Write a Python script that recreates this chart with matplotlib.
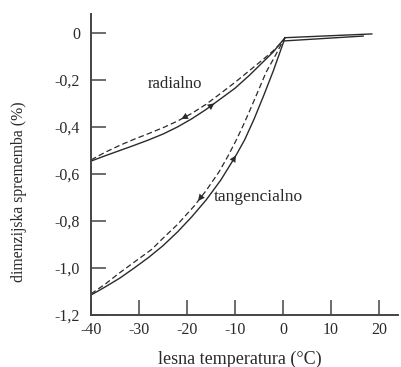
import numpy as np
import matplotlib
matplotlib.use("Agg")
import matplotlib.pyplot as plt

plt.rcParams['font.family'] = ['Liberation Serif', 'DejaVu Serif']

# radialno (ohlajanje - crtkano, segrevanje - polno)
rad_cool_t = [-40, -37, -34, -31, -28, -25, -22, -19, -16, -13, -10, -7, -4, -2, 0]
rad_cool = [-0.54, -0.507, -0.478, -0.452, -0.428, -0.403, -0.375, -0.342, -0.303,
            -0.257, -0.21, -0.16, -0.11, -0.075, -0.034]
rad_warm_t = [-40, -37, -34, -31, -28, -25, -22, -19, -16, -13, -10, -7, -4, -2, 0.4]
rad_warm = [-0.545, -0.522, -0.5, -0.478, -0.455, -0.43, -0.4, -0.365, -0.325,
            -0.28, -0.235, -0.18, -0.12, -0.08, -0.02]

# tangencialno
tan_cool_t = [-40, -37, -34.4, -31, -27.3, -25.6, -22, -18.5, -16, -13.3, -11.5,
              -9.6, -8, -6.5, -5, -3.5, -1.7, 0]
tan_cool = [-1.11, -1.068, -1.026, -0.975, -0.92, -0.885, -0.815, -0.736, -0.67,
            -0.59, -0.525, -0.45, -0.38, -0.31, -0.238, -0.166, -0.10, -0.034]
tan_warm_t = [-40, -37, -34, -31, -28, -25, -22, -19, -16, -13, -10, -8, -6, -4,
              -2, 0, 0.4]
tan_warm = [-1.115, -1.08, -1.043, -1.0, -0.955, -0.905, -0.847, -0.782, -0.71,
            -0.627, -0.528, -0.455, -0.365, -0.265, -0.16, -0.045, -0.02]

# plato nad 0 °C
flat_warm_t = [0.4, 18.5]
flat_warm = [-0.02, -0.004]
flat_cool_t = [0, 16.7]
flat_cool = [-0.034, -0.013]

# puscice: (temperatura, krivulja)
arrow_pos = [(-20.0, 'rad_cool'), (-15.5, 'rad_warm'), (-11.0, 'tan_warm'), (-16.5, 'tan_cool')]

col = '#2a2a2a'
fig = plt.figure(figsize=(4.01, 3.67), dpi=100)
ax = fig.add_axes([0.227, 0.1417, 0.766, 0.8196])

ax.plot(rad_cool_t, rad_cool, color=col, lw=0.9, ls=(0, (4.5, 2.5)))
ax.plot(rad_warm_t, rad_warm, color=col, lw=1.0)
ax.plot(tan_cool_t, tan_cool, color=col, lw=0.9, ls=(0, (4.5, 2.5)))
ax.plot(tan_warm_t, tan_warm, color=col, lw=1.0)
ax.plot(flat_warm_t, flat_warm, color=col, lw=1.0)
ax.plot(flat_cool_t, flat_cool, color=col, lw=1.0)

curves = {
    'rad_cool': (rad_cool_t, rad_cool, -1),
    'rad_warm': (rad_warm_t, rad_warm, 1),
    'tan_cool': (tan_cool_t, tan_cool, -1),
    'tan_warm': (tan_warm_t, tan_warm, 1),
}
for t0, key in arrow_pos:
    xs, ys, d = curves[key]
    y0 = np.interp(t0, xs, ys)
    t1 = t0 + d * 1.2
    y1 = np.interp(t1, xs, ys)
    ax.annotate('', xy=(t1, y1), xytext=(t0, y0),
                arrowprops=dict(arrowstyle='-|>', lw=0, color=col,
                                mutation_scale=12, shrinkA=0, shrinkB=0))

ax.text(-22.5, -0.215, 'radialno', fontsize=12, ha='center', va='center', color=col)
ax.text(-5.2, -0.70, 'tangencialno', fontsize=12.5, ha='center', va='center', color=col)

ax.set_xlim(-40, 24)
ax.set_ylim(-1.2, 0.08)
ax.set_xticks([-40, -30, -20, -10, 0, 10, 20])
ax.set_yticks([0, -0.2, -0.4, -0.6, -0.8, -1.0, -1.2])
ax.set_yticklabels(['0', '-0,2', '-0,4', '-0,6', '-0,8', '-1,0', '-1,2'])
ax.set_xticklabels(['-40', '-30', '-20', '-10', '0', '10', '20'])

for s in ['top', 'right']:
    ax.spines[s].set_visible(False)
for s in ['left', 'bottom']:
    ax.spines[s].set_linewidth(1.4)
    ax.spines[s].set_color('#444444')
ax.tick_params(direction='in', length=10.5, width=1.1, color='#444444',
               labelsize=11.5, labelcolor=col)
ax.tick_params(axis='y', pad=8)
ax.tick_params(axis='x', pad=5)

ax.set_xlabel('lesna temperatura (°C)', fontsize=13, color=col)
ax.xaxis.set_label_coords(0.485, -0.118)
ax.set_ylabel('dimenzijska sprememba (%)', fontsize=11.3, color=col)
ax.yaxis.set_label_coords(-0.208, 0.41)

fig.savefig('out.png', dpi=100)
